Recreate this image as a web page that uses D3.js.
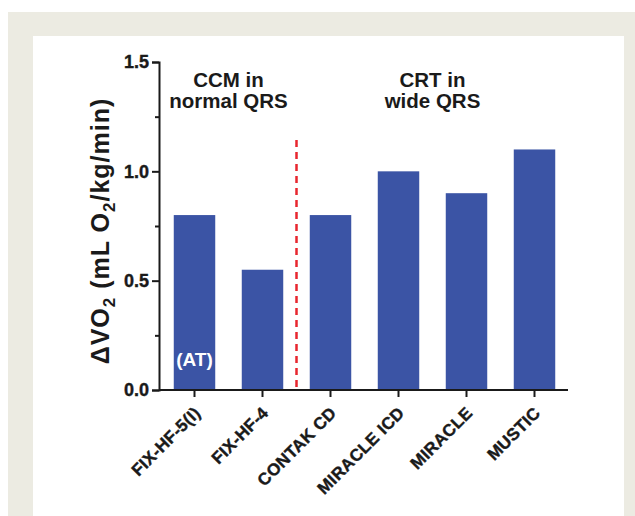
<!DOCTYPE html>
<html>
<head>
<meta charset="utf-8">
<script src="https://cdn.jsdelivr.net/npm/d3@7/dist/d3.min.js"></script>
<style>
  html, body { margin: 0; padding: 0; background: #ffffff; }
  svg { display: block; font-family: "Liberation Sans", Arial, Helvetica, sans-serif; }
</style>
</head>
<body>
<svg id="chart" width="635" height="516"></svg>
<script>
const categories = ["FIX-HF-5(I)", "FIX-HF-4", "CONTAK CD", "MIRACLE ICD", "MIRACLE", "MUSTIC"];
const values = [0.8, 0.55, 0.8, 1.0, 0.9, 1.1];
const yMajorTicks = [0, 0.5, 1.0, 1.5];
const yMinorTicks = [0.25, 0.75, 1.25];
const groupLabels = [
  { lines: ["CCM in", "normal QRS"], from: "FIX-HF-5(I)", to: "FIX-HF-4" },
  { lines: ["CRT in", "wide QRS"], from: "CONTAK CD", to: "MUSTIC" }
];
const barNote = { category: "FIX-HF-5(I)", text: "(AT)" };

const svg = d3.select("#chart");
const W = 635, H = 516;
const axisX = 159, axisY = 390, topY = 62, rightX = 568;
const ink = "#1a1a1a";

// frame
svg.append("rect").attr("x", 8).attr("y", 12).attr("width", W - 8).attr("height", H - 12).attr("fill", "#ecebe2");
svg.append("rect").attr("x", 33).attr("y", 36).attr("width", 591).attr("height", H - 36).attr("fill", "#ffffff");

const y = d3.scaleLinear().domain([0, 1.5]).range([axisY, topY]);
const x = d3.scaleBand().domain(categories).range([160.5, 568.5]).paddingInner(0.39).paddingOuter(0.195);

// bars
svg.append("g").selectAll("rect").data(categories).join("rect")
  .attr("x", d => x(d))
  .attr("y", (d, i) => y(values[i]))
  .attr("width", x.bandwidth())
  .attr("height", (d, i) => y(0) - y(values[i]))
  .attr("fill", "#3b54a5");

// (AT) note
svg.append("text")
  .attr("x", x(barNote.category) + x.bandwidth() / 2)
  .attr("y", 366)
  .attr("text-anchor", "middle")
  .attr("fill", "#ffffff")
  .attr("font-weight", "bold")
  .attr("font-size", 19)
  .text(barNote.text);

// red dashed separator between groups
const sepX = (x(categories[1]) + x.bandwidth() + x(categories[2])) / 2;
svg.append("line")
  .attr("x1", sepX).attr("x2", sepX)
  .attr("y1", 140).attr("y2", axisY)
  .attr("stroke", "#e8262e").attr("stroke-width", 2.5)
  .attr("stroke-dasharray", "7,5");

// y axis
const yAxis = d3.axisLeft(y).tickValues(yMajorTicks).tickSize(7).tickPadding(3).tickFormat(d3.format(".1f"));
const gy = svg.append("g").attr("transform", `translate(${axisX},0)`).call(yAxis);
gy.attr("font-size", null).attr("font-family", null);
gy.select(".domain").attr("stroke", ink).attr("stroke-width", 2);
gy.selectAll(".tick line").attr("stroke", ink).attr("stroke-width", 2);
gy.selectAll(".tick text")
  .style("font-size", "18px").style("font-weight", "bold").attr("fill", ink)
  .attr("stroke", ink).attr("stroke-width", 0.4);
const gyMinor = svg.append("g").attr("transform", `translate(${axisX},0)`)
  .call(d3.axisLeft(y).tickValues(yMinorTicks).tickSize(4).tickFormat(""));
gyMinor.select(".domain").remove();
gyMinor.selectAll(".tick line").attr("stroke", ink).attr("stroke-width", 2);

// x axis
const xAxis = d3.axisBottom(x).tickSize(7).tickSizeOuter(0).tickFormat("");
const gx = svg.append("g").attr("transform", `translate(0,${axisY})`).call(xAxis);
gx.select(".domain").attr("d", `M${axisX},0H${rightX}`).attr("stroke", ink).attr("stroke-width", 2);
gx.selectAll(".tick line").attr("stroke", ink).attr("stroke-width", 2);

// rotated category labels
svg.append("g").selectAll("text").data(categories).join("text")
  .attr("transform", d => `translate(${x(d) + x.bandwidth() / 2 + 7},414) rotate(-45)`)
  .attr("text-anchor", "end")
  .style("font-size", "17px").style("font-weight", "bold").style("letter-spacing", "0.3px")
  .attr("fill", ink).attr("stroke", ink).attr("stroke-width", 0.4)
  .text(d => d);

// group header labels
groupLabels.forEach(g => {
  const cx = (x(g.from) + x(g.to) + x.bandwidth()) / 2;
  const t = svg.append("text").attr("text-anchor", "middle")
    .style("font-size", "20.5px").style("font-weight", "bold").attr("fill", ink);
  g.lines.forEach((ln, i) => {
    t.append("tspan").attr("x", cx).attr("y", 87 + i * 21).text(ln);
  });
});

// y axis title
const yt = svg.append("text")
  .attr("transform", `translate(109,231) rotate(-90)`)
  .attr("text-anchor", "middle")
  .style("font-size", "25px").style("font-weight", "bold").style("letter-spacing", "1px").attr("fill", ink);
yt.append("tspan").text("\u0394VO");
yt.append("tspan").style("font-size", "17px").attr("dy", 6).text("2");
yt.append("tspan").attr("dy", -6).text(" (mL O");
yt.append("tspan").style("font-size", "17px").attr("dy", 6).text("2");
yt.append("tspan").attr("dy", -6).text("/kg/min)");
</script>
</body>
</html>
